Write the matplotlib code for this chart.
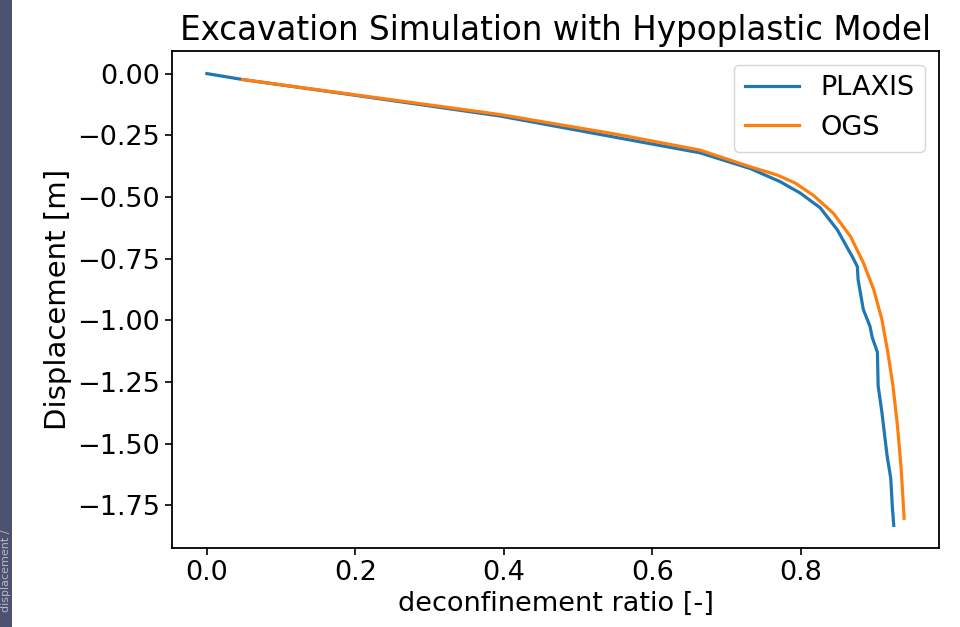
import matplotlib
matplotlib.use("Agg")
import matplotlib.pyplot as plt
from matplotlib.patches import Rectangle

plaxis_x = [0.0, 0.048, 0.2, 0.395, 0.55, 0.664, 0.732, 0.772, 0.799, 0.826, 0.849,
            0.869, 0.876, 0.877, 0.884, 0.893, 0.896, 0.903, 0.904, 0.909, 0.916,
            0.921, 0.923, 0.925]
plaxis_y = [0.0, -0.024, -0.088, -0.172, -0.258, -0.321, -0.385, -0.438, -0.484,
            -0.544, -0.633, -0.741, -0.782, -0.835, -0.956, -1.024, -1.069, -1.129,
            -1.266, -1.371, -1.548, -1.641, -1.750, -1.831]

ogs_x = [0.048, 0.2, 0.395, 0.55, 0.664, 0.732, 0.768, 0.792, 0.817, 0.844, 0.867,
         0.884, 0.898, 0.909, 0.917, 0.924, 0.930, 0.935, 0.939]
ogs_y = [-0.024, -0.086, -0.166, -0.245, -0.31, -0.378, -0.411, -0.443, -0.494,
         -0.567, -0.661, -0.766, -0.875, -0.996, -1.129, -1.266, -1.427, -1.601, -1.802]

W, H = 960, 627
fig = plt.figure(figsize=(W / 100, H / 100), dpi=100)

# dark strip on the left edge (screenshot artefact)
fig.patches.append(Rectangle((0, 0), 12 / W, 1, transform=fig.transFigure,
                             facecolor="#4c5270", edgecolor="none", zorder=0))
fig.text(6 / W, 15 / H, "displacement /", rotation=90, color="#b4b8c6",
         fontsize=8, ha="center", va="bottom")

ax = fig.add_axes([172 / W, 1 - 548 / H, 767 / W, 497 / H])
ax.plot(plaxis_x, plaxis_y, color="#1f77b4", lw=2.3, label="PLAXIS")
ax.plot(ogs_x, ogs_y, color="#ff7f0e", lw=2.3, label="OGS")

ax.set_title("Excavation Simulation with Hypoplastic Model", fontsize=23.5, pad=8)
ax.set_xlabel("deconfinement ratio [-]", fontsize=19.5)
ax.set_ylabel("Displacement [m]", fontsize=21)
ax.set_xticks([0.0, 0.2, 0.4, 0.6, 0.8])
ax.set_yticks([0.0, -0.25, -0.5, -0.75, -1.0, -1.25, -1.5, -1.75])
ax.tick_params(labelsize=19.5, length=5, width=1.2)
for s in ax.spines.values():
    s.set_linewidth(1.3)
ax.legend(fontsize=19.5, loc="upper right")

fig.savefig("out.png", dpi=100)
